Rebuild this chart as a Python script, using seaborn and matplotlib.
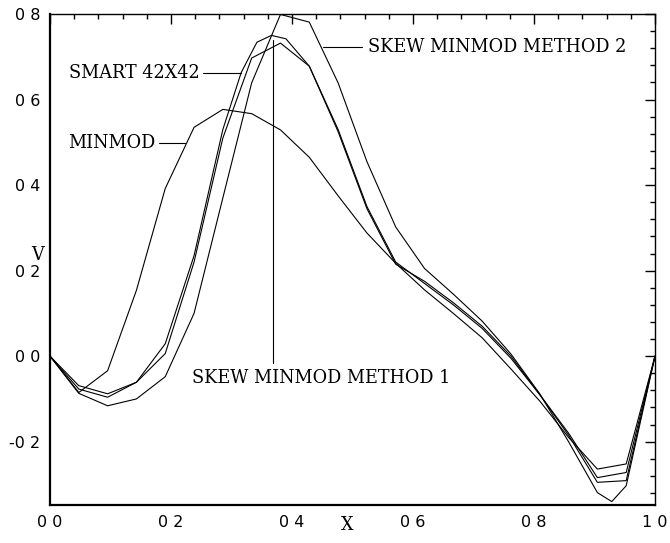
import numpy as np
import pandas as pd
import matplotlib
matplotlib.use("Agg")
import matplotlib.pyplot as plt
from matplotlib.ticker import MultipleLocator
import seaborn as sns

# ---------------- data ----------------
grid = [i / 21 for i in range(22)]

minmod_x = grid
minmod_v = [0.0, -0.085, -0.034, 0.154, 0.392, 0.535, 0.577, 0.567, 0.529, 0.465, 0.375,
            0.288, 0.217, 0.155, 0.100, 0.043, -0.030, -0.105, -0.190, -0.264, -0.252, 0.0]

smart_x = grid[:7] + [0.316, 0.342, 0.366, 0.390] + grid[9:]
smart_v = [0.0, -0.069, -0.088, -0.061, 0.029, 0.235, 0.530, 0.663, 0.734, 0.750, 0.742,
           0.678, 0.525, 0.345, 0.215, 0.175, 0.125, 0.070, 0.000, -0.090, -0.180, -0.284, -0.272, 0.0]

skew1_x = grid
skew1_v = [0.0, -0.077, -0.096, -0.061, 0.006, 0.220, 0.510, 0.697, 0.732, 0.678, 0.530,
           0.350, 0.220, 0.170, 0.120, 0.065, -0.005, -0.090, -0.185, -0.295, -0.291, 0.0]

skew2_x = grid[:20] + [39 / 42] + grid[20:]
skew2_v = [0.0, -0.087, -0.116, -0.100, -0.048, 0.100, 0.370, 0.639, 0.799, 0.781, 0.639,
           0.455, 0.302, 0.205, 0.145, 0.082, 0.005, -0.088, -0.200, -0.319, -0.340, -0.303, 0.0]

xtick_vals = [0.0, 0.2, 0.4, 0.6, 0.8, 1.0]
xtick_labels = ["0 0", "0 2", "0 4", "0 6", "0 8", "1 0"]
ytick_vals = [-0.2, 0.0, 0.2, 0.4, 0.6, 0.8]
ytick_labels = ["-0 2", "0 0", "0 2", "0 4", "0 6", "0 8"]

frames = []
for name, xs, vs in [("MINMOD", minmod_x, minmod_v), ("SMART 42X42", smart_x, smart_v),
                     ("SKEW MINMOD METHOD 1", skew1_x, skew1_v),
                     ("SKEW MINMOD METHOD 2", skew2_x, skew2_v)]:
    frames.append(pd.DataFrame({"x": xs, "v": vs, "series": name}))
df = pd.concat(frames, ignore_index=True)

# ---------------- style ----------------
sns.set_theme(style="white")
plt.rcParams["font.family"] = ["DejaVu Sans"]

W, H = 670, 543
fig = plt.figure(figsize=(W / 100, H / 100), dpi=100)
ax = fig.add_axes([50 / W, 1 - 505 / H, 605 / W, 491 / H])

sns.lineplot(data=df, x="x", y="v", units="series", estimator=None, sort=False,
             color="black", linewidth=0.8, legend=False, ax=ax)

ax.set_xlim(0, 1)
ax.set_ylim(-0.348, 0.8)
ax.set_xlabel("")
ax.set_ylabel("")

ax.set_xticks(xtick_vals, xtick_labels)
ax.set_yticks(ytick_vals, ytick_labels)
ax.xaxis.set_minor_locator(MultipleLocator(0.04))
ax.yaxis.set_minor_locator(MultipleLocator(0.04))
ax.tick_params(which="both", direction="in", top=True, right=True, color="black",
               labelsize=11.5, labelcolor="black")
ax.tick_params(which="major", length=7, width=1.0, pad=7)
ax.tick_params(which="minor", length=3.5, width=1.0)

for side in ["left", "bottom"]:
    ax.spines[side].set_linewidth(1.6)
for side in ["top", "right"]:
    ax.spines[side].set_linewidth(1.0)
for s in ax.spines.values():
    s.set_color("black")

serif = dict(family="DejaVu Serif", fontsize=12.7, color="black")

# annotations (labels with leader lines)
ax.text(0.248, 0.663, "SMART 42X42", ha="right", va="center", **serif)
ax.plot([0.253, 0.316], [0.663, 0.663], color="black", lw=0.8)

ax.text(0.174, 0.4995, "MINMOD", ha="right", va="center", **serif)
ax.plot([0.180, 0.223], [0.4995, 0.4995], color="black", lw=0.8)

ax.text(0.526, 0.722, "SKEW MINMOD METHOD 2", ha="left", va="center", **serif)
ax.plot([0.452, 0.515], [0.722, 0.722], color="black", lw=0.8)

ax.text(0.235, -0.052, "SKEW MINMOD METHOD 1", ha="left", va="center", **serif)
ax.plot([0.3678, 0.3678], [-0.017, 0.74], color="black", lw=0.8)

# axis titles
fig.text(38 / W, 1 - 255 / H, "V", ha="center", va="center", **serif)
fig.text(347 / W, 1 - 525 / H, "X", ha="center", va="center", **serif)

fig.savefig("out.png", dpi=100, facecolor="white")
